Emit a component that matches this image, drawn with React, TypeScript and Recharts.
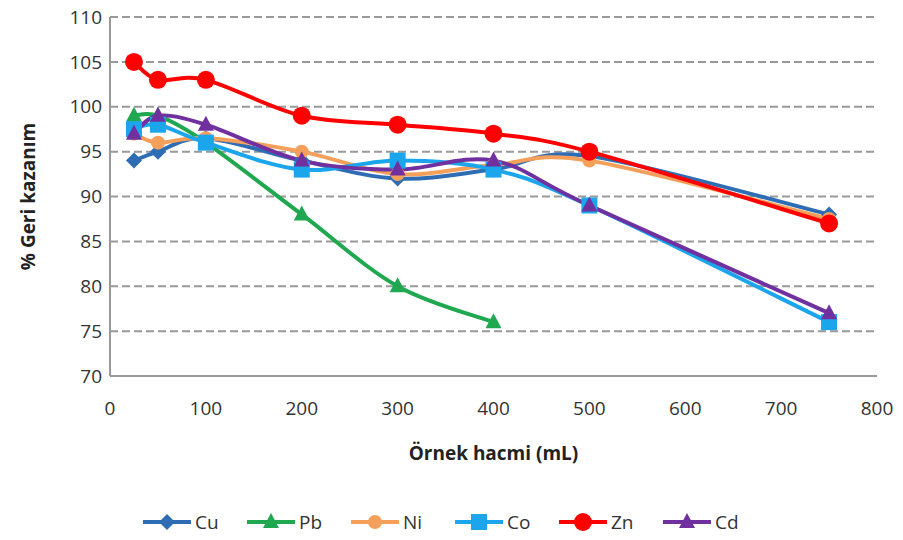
import { LineChart, Line, XAxis, YAxis, CartesianGrid } from 'recharts'

const volumes = [25, 50, 100, 200, 300, 400, 500, 750]
const cu = [94, 95, 96.5, 94, 92, 93, 94.5, 88]
const pb = [99, 99, 96, 88, 80, 76]
const ni = [97, 96, 96.5, 95, 92.5, 93.5, 94, 87.5]
const co = [97.5, 98, 96, 93, 94, 93, 89, 76]
const zn = [105, 103, 103, 99, 98, 97, 95, 87]
const cd = [97, 99, 98, 94, 93, 94, 89, 77]
const xTicks = [0, 100, 200, 300, 400, 500, 600, 700, 800]
const yTicks = [70, 75, 80, 85, 90, 95, 100, 105, 110]

const toRows = (vals: number[]) => vals.map((v, i) => ({ x: volumes[i], y: v }))

type Shape = 'diamond' | 'triangle' | 'circle' | 'square' | 'bigcircle'
const SERIES: { name: string; vals: number[]; color: string; shape: Shape }[] = [
  { name: 'Cu', vals: cu, color: '#2E6DB4', shape: 'diamond' },
  { name: 'Pb', vals: pb, color: '#1FA84F', shape: 'triangle' },
  { name: 'Ni', vals: ni, color: '#F5A05A', shape: 'circle' },
  { name: 'Co', vals: co, color: '#1BA5EC', shape: 'square' },
  { name: 'Zn', vals: zn, color: '#FF0000', shape: 'bigcircle' },
  { name: 'Cd', vals: cd, color: '#7030A0', shape: 'triangle' },
]

// Excel-like smoothed line (Catmull-Rom style bezier)
function smoothCurve(context: any) {
  let pts: [number, number][] = []
  return {
    areaStart() {},
    areaEnd() {},
    lineStart() { pts = [] },
    point(x: number, y: number) { pts.push([x, y]) },
    lineEnd() {
      if (!pts.length) return
      context.moveTo(pts[0][0], pts[0][1])
      for (let i = 0; i < pts.length - 1; i++) {
        const p0 = pts[i - 1] || pts[i]
        const p1 = pts[i]
        const p2 = pts[i + 1]
        const p3 = pts[i + 2] || p2
        context.bezierCurveTo(
          p1[0] + (p2[0] - p0[0]) / 6, p1[1] + (p2[1] - p0[1]) / 6,
          p2[0] - (p3[0] - p1[0]) / 6, p2[1] - (p3[1] - p1[1]) / 6,
          p2[0], p2[1])
      }
    },
  }
}

function marker(shape: Shape, cx: number, cy: number, color: string, key?: string) {
  switch (shape) {
    case 'diamond':
      return <path key={key} d={`M${cx},${cy - 8}L${cx + 8},${cy}L${cx},${cy + 8}L${cx - 8},${cy}Z`} fill={color} />
    case 'triangle':
      return <path key={key} d={`M${cx},${cy - 9}L${cx + 8},${cy + 6}L${cx - 8},${cy + 6}Z`} fill={color} />
    case 'circle':
      return <circle key={key} cx={cx} cy={cy} r={7} fill={color} />
    case 'bigcircle':
      return <circle key={key} cx={cx} cy={cy} r={9} fill={color} />
    case 'square':
      return <rect key={key} x={cx - 8} y={cy - 8} width={16} height={16} fill={color} />
  }
}

const font = 'Open Sans, Liberation Sans, sans-serif'

export default function App() {
  return (
    <div style={{ position: 'absolute', left: 0, top: 0, width: 903, height: 540, background: '#fff', fontFamily: font }}>
      <LineChart width={903} height={470} margin={{ top: 17, right: 26, bottom: 10, left: 40 }}>
        <CartesianGrid vertical={false} stroke="#999" strokeDasharray="8 4" strokeWidth={2} />
        <XAxis type="number" dataKey="x" domain={[0, 800]} ticks={xTicks} allowDuplicatedCategory={false}
          tick={{ fontSize: 19, fill: '#333', fontFamily: font }} tickLine={false} axisLine={{ stroke: '#999', strokeWidth: 2 }}
          tickMargin={20} height={84}
          label={{ value: 'Örnek hacmi (mL)', position: 'insideBottom', offset: 0, style: { fontSize: 19, fontWeight: 'bold', fill: '#222', fontFamily: font } }} />
        <YAxis type="number" domain={[70, 110]} ticks={yTicks} width={70}
          tick={{ fontSize: 19, fill: '#333', fontFamily: font }} tickLine={false} axisLine={{ stroke: '#999', strokeWidth: 2 }}
          label={{ value: '% Geri kazanım', angle: -90, position: 'insideLeft', offset: 0, dx: -12, style: { textAnchor: 'middle', fontSize: 19, fontWeight: 'bold', fill: '#222', fontFamily: font } }} />
        {SERIES.map(s => (
          <Line key={s.name} data={toRows(s.vals)} dataKey="y" name={s.name} type={smoothCurve as any} stroke={s.color} strokeWidth={4}
            isAnimationActive={false}
            dot={(p: any) => marker(s.shape, p.cx, p.cy, s.color, `${s.name}-${p.index}`)} activeDot={false} />
        ))}
      </LineChart>
      <svg width={903} height={40} style={{ position: 'absolute', left: 0, top: 503 }}>
        {SERIES.map((s, i) => {
          const x0 = 143 + i * 104
          return (
            <g key={s.name}>
              <line x1={x0} y1={19} x2={x0 + 48} y2={19} stroke={s.color} strokeWidth={4} />
              {marker(s.shape, x0 + 24, 19, s.color)}
              <text x={x0 + 52} y={26} fontSize={19} fill="#333" fontFamily={font}>{s.name}</text>
            </g>
          )
        })}
      </svg>
    </div>
  )
}
